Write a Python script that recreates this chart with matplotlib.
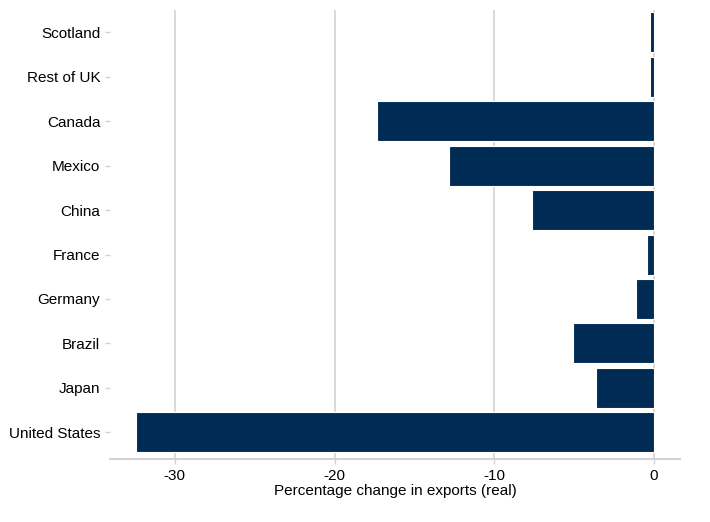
import matplotlib
matplotlib.use('Agg')
import matplotlib.pyplot as plt
import numpy as np

plt.rcParams['font.family'] = ['Liberation Sans', 'DejaVu Sans']

# regions, top to bottom as drawn
regions = ['Scotland', 'Rest of UK', 'Canada', 'Mexico', 'China',
           'France', 'Germany', 'Brazil', 'Japan', 'United States']
# percentage change in real exports
change = [-0.23, -0.25, -17.35, -12.85, -7.65, -0.42, -1.13, -5.1, -3.6, -32.45]

navy = '#002b54'
grey = '#d3d3d3'

fig = plt.figure(figsize=(7.1, 5.22), dpi=100)
ax = fig.add_axes([110/710, 1 - 459/522, 570/710, 449/522])

ypos = np.arange(len(regions))[::-1]
ax.barh(ypos, change, height=0.9, color=navy, edgecolor='white', linewidth=0.8, zorder=3)

ax.set_xlim(-34.06, 1.63)
ax.set_ylim(-0.6, len(regions) - 0.5)
ax.set_xticks([-30, -20, -10, 0])
ax.set_xticklabels(['-30', '-20', '-10', '0'])
ax.set_yticks(ypos)
ax.set_yticklabels(regions)

ax.grid(axis='x', color=grey, linewidth=1.2, zorder=0)
for s in ['top', 'right', 'left']:
    ax.spines[s].set_visible(False)
ax.spines['bottom'].set_color(grey)
ax.spines['bottom'].set_linewidth(1.5)
ax.tick_params(axis='both', colors=grey, labelcolor='black', labelsize=11, length=3.5, width=1)
ax.set_xlabel('Percentage change in exports (real)', fontsize=11, labelpad=1)

fig.savefig('out.png', dpi=100)
